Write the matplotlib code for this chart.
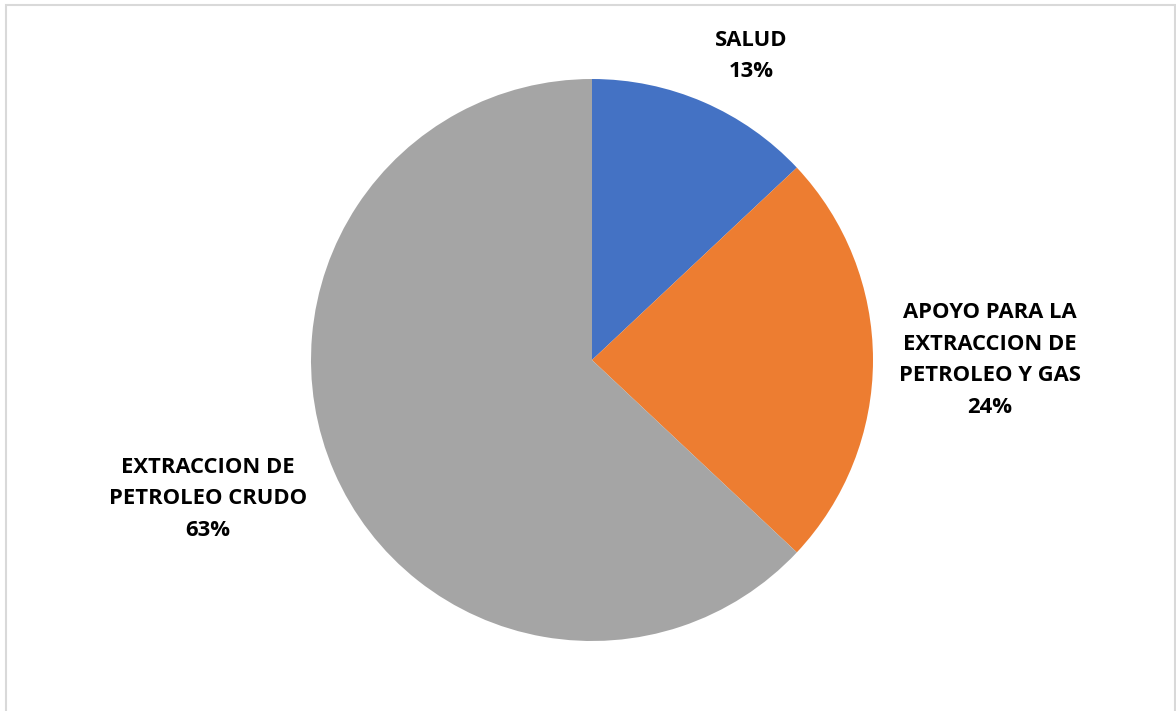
import matplotlib
matplotlib.use('Agg')
import matplotlib.pyplot as plt
from matplotlib.patches import Rectangle

# Data
categories = ['SALUD', 'APOYO PARA LA\nEXTRACCION DE\nPETROLEO Y GAS', 'EXTRACCION DE\nPETROLEO CRUDO']
values = [13, 24, 63]
colors = ['#4472c4', '#ed7d31', '#a5a5a5']

W, H = 1176, 711
fig = plt.figure(figsize=(W / 100, H / 100), dpi=100)
ax = fig.add_axes([0, 0, 1, 1])

ax.pie(values, colors=colors, startangle=90, counterclock=False,
       center=(592, H - 360), radius=281, frame=True,
       wedgeprops=dict(linewidth=0))
ax.set_xlim(0, W)
ax.set_ylim(0, H)
ax.set_aspect('equal')
ax.axis('off')

# Chart frame
ax.add_patch(Rectangle((6, -5), W - 7, H, fill=False,
                       edgecolor='#d9d9d9', linewidth=1.5))

# Label positions (pixel coords from top)
label_pos = [(751, 56), (990, 360), (208, 499)]
for cat, val, (x, y) in zip(categories, values, label_pos):
    ax.text(x, H - y, f'{cat}\n{val}%', ha='center', va='center',
            fontsize=15.8, fontweight='bold', family='Open Sans',
            color='black', linespacing=1.65)

plt.savefig('out.png', dpi=100, facecolor='white')
